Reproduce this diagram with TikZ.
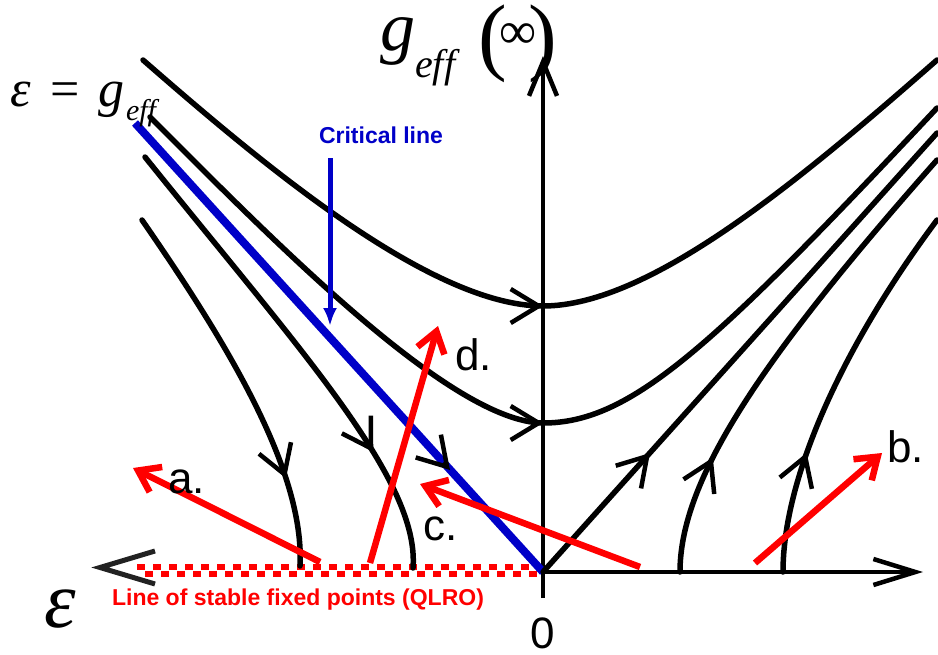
\documentclass[tikz,border=0pt]{standalone}
\usepackage{fontspec}
\setmainfont{Liberation Serif}
\newfontfamily\lsans{Liberation Sans}
\usetikzlibrary{arrows.meta}
\definecolor{critblue}{RGB}{0,0,200}
\definecolor{qred}{RGB}{255,0,0}
\definecolor{chev}{RGB}{34,34,34}
\begin{document}
\begin{tikzpicture}[x=1pt,y=-1pt,
  flow/.style={line width=5.5pt, line cap=round},
  axisline/.style={line width=4.5pt},
  barb/.style={line width=4.5pt, -{Straight Barb[length=28pt,width=34pt]}},
  redarrow/.style={qred, line width=6.5pt, -{Straight Barb[length=20pt,width=28pt]}},
  checker/.style={qred, line width=6pt, dash pattern=on 8pt off 8pt},
  lab/.style={anchor=base west, inner sep=0pt, font=\lsans\fontsize{44}{44}\selectfont},
  boldtxt/.style={inner sep=0pt, font=\lsans\bfseries\fontsize{23}{23}\selectfont},
  mathtxt/.style={anchor=base west, inner sep=0pt}
]
\useasboundingbox (0,0) rectangle (938,654);
\fill[white] (0,0) rectangle (938,654);

% key points
\coordinate (O) at (543,572);
\coordinate (Ybot) at (543,598);
\coordinate (Ytop) at (543,56);
\coordinate (Xend) at (923,572);
\coordinate (Ltip) at (100,567.5);

% stable fixed points (checker line)
\draw[checker] (137,567) -- (540,567);
\draw[checker, dash phase=8pt] (137,573.5) -- (540,573.5);

% axes
\draw[axisline, -{Straight Barb[length=34pt,width=28pt]}] (Ybot) -- (Ytop);
\draw[axisline, -{Straight Barb[length=42pt,width=26pt]}] (O) -- (Xend);
\draw[chev, line width=5pt, line join=miter] (155,551) -- (Ltip) -- (155,584);

% critical line
\coordinate (CLstart) at (135,123);
\draw[critblue, line width=8pt] (CLstart) -- (O);
\coordinate (CLa) at (443.3,462.6);
\coordinate (CLb) at (450,470);
\draw[barb] (CLa) -- (CLb);

% flow lines, left
\coordinate (C1a) at (143,60);
\coordinate (C1m) at (543,306);
\coordinate (C1b) at (937,60);
\draw[flow] (C1a) .. controls (260,162) and (430,306) .. (C1m) .. controls (650,306) and (800,180) .. (C1b);
\coordinate (C2a) at (150,117);
\coordinate (C2m) at (543,423);
\coordinate (C2b) at (937,108);
\draw[flow] (C2a) .. controls (270,237) and (450,422) .. (C2m) .. controls (630,423) and (710,350) .. (C2b);
\coordinate (C3a) at (145,157);
\coordinate (C3b) at (413,568);
\draw[flow] (C3a) .. controls (300,350) and (420,480) .. (C3b);
\coordinate (C4a) at (142,220);
\coordinate (C4b) at (300,566);
\draw[flow] (C4a) .. controls (225,340) and (305,470) .. (C4b);
% flow lines, right
\coordinate (R0end) at (937,133);
\draw[flow] (O) -- (R0end);
\coordinate (R1a) at (680,572);
\coordinate (R1b) at (937,160);
\draw[flow] (R1a) .. controls (680,480) and (760,360) .. (R1b);
\coordinate (R2a) at (783,572);
\coordinate (R2b) at (937,220);
\draw[flow] (R2a) .. controls (783,480) and (840,350) .. (R2b);

% arrowheads on flow lines
\draw[barb] (531,306) -- (C1m);
\draw[barb] (531,423) -- (C2m);
\draw[barb] (368,443.4) -- (373.3,452);
\draw[barb] (283.5,471.5) -- (286,478.4);
\draw[barb] (643,460.8) -- (650,453);
\draw[barb] (708.6,466.3) -- (712.8,457.5);
\draw[barb] (803.5,461.7) -- (806.7,452.7);

% critical line pointer
\node[boldtxt, text=critblue] (crit) at (381,135) {Critical line};
\coordinate (critA) at (330,158);
\coordinate (critB) at (330,326);
\draw[critblue, line width=5pt, -{Latex[length=18pt,width=14pt]}] (critA) -- (critB);

% red arrows
\draw[redarrow] (320,562) -- (133,468);
\draw[redarrow] (640,567) -- (420,484);
\draw[redarrow] (370,563) -- (438,326);
\draw[redarrow] (755,563) -- (882,453);

% labels
\node[lab] (la) at (168,493) {a.};
\node[lab] (lb) at (887,462) {b.};
\node[lab] (lc) at (423,540) {c.};
\node[lab] (ld) at (455,370) {d.};
\node[lab, anchor=base] (zero) at (543,648) {0};
\node[boldtxt, text=qred] (qlro) at (298,600) {Line of stable fixed points (QLRO)};

% math-like labels
\node[mathtxt, font=\fontsize{80}{80}\selectfont] (epsb) at (44,627) {\textit{ε}};
\node[mathtxt, font=\fontsize{52}{52}\selectfont] (epsg) at (10,106) {\textit{ε}\hspace{20pt}=\hspace{18pt}\textit{g}\hspace{2pt}\raisebox{-14pt}{\fontsize{30}{30}\selectfont\textit{eff}}};
\node[mathtxt, font=\fontsize{70}{70}\selectfont] (gtop) at (380,50) {\textit{g}\raisebox{-27pt}{\fontsize{40}{40}\selectfont\textit{eff}}};
\node[mathtxt, font=\fontsize{86}{86}\selectfont] (ginf) at (478,64) {(\hspace{-7.6pt}\raisebox{16pt}{\fontsize{52}{52}\selectfont ∞}\hspace{-8pt})};
\end{tikzpicture}
\end{document}
